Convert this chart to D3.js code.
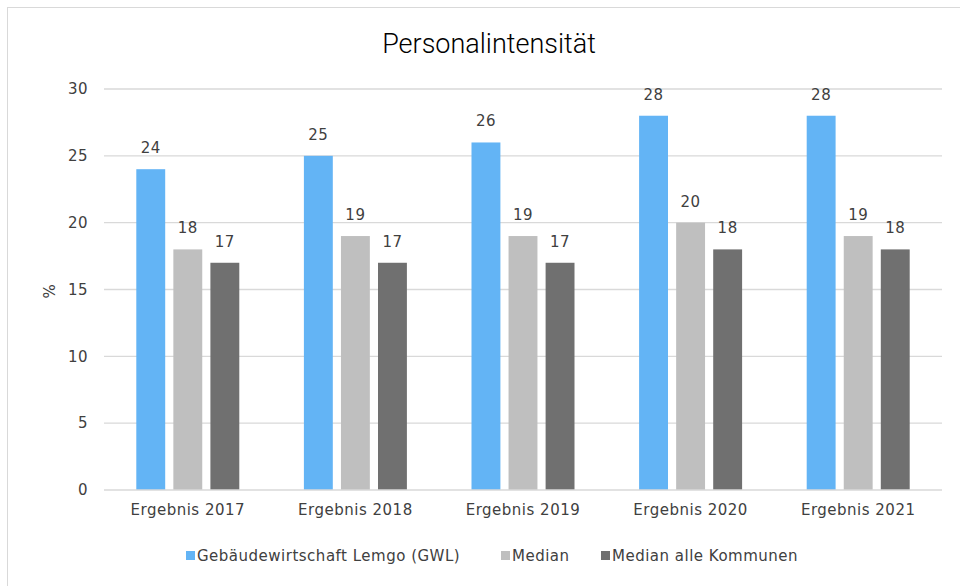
<!DOCTYPE html>
<html>
<head>
<meta charset="utf-8">
<script src="https://cdn.jsdelivr.net/npm/d3@7"></script>
<style>
  body { margin: 0; background: #fff; }
  svg text { font-family: "DejaVu Sans", Verdana, sans-serif; fill: #404040; letter-spacing: 0.5px; }
</style>
</head>
<body>
<div id="chart"></div>
<script>
const categories = ['Ergebnis 2017', 'Ergebnis 2018', 'Ergebnis 2019', 'Ergebnis 2020', 'Ergebnis 2021'];
const seriesNames = ['Gebäudewirtschaft Lemgo (GWL)', 'Median', 'Median alle Kommunen'];
const gwl = [24, 25, 26, 28, 28];
const median = [18, 19, 19, 20, 19];
const medianAll = [17, 17, 17, 18, 18];
const yTicks = [0, 5, 10, 15, 20, 25, 30];
const colors = ['#63b4f5', '#bfbfbf', '#707070'];

const width = 960, height = 586;
const margin = {top: 89, right: 18, bottom: 96, left: 104};
const innerW = width - margin.left - margin.right;
const innerH = height - margin.top - margin.bottom;

const svg = d3.select('#chart').append('svg')
    .attr('width', width)
    .attr('height', height);

// outer frame
svg.append('rect')
    .attr('x', 7.5).attr('y', 7.5)
    .attr('width', 970).attr('height', 600)
    .attr('fill', 'none')
    .attr('stroke', '#d9d9d9');

svg.append('text')
    .attr('x', 489).attr('y', 53)
    .attr('text-anchor', 'middle')
    .style('font-family', 'Roboto, sans-serif')
    .style('font-weight', 300)
    .style('font-size', '27px')
    .style('letter-spacing', '0px')
    .style('fill', '#000')
    .text('Personalintensität');

const g = svg.append('g')
    .attr('transform', `translate(${margin.left},${margin.top})`);

const x0 = d3.scaleBand().domain(categories).range([0, innerW]);
const x1 = d3.scaleBand().domain(seriesNames).range([0, 103]).paddingInner(0.22);
const y = d3.scaleLinear().domain([0, 30]).range([innerH, 0]);

// gridlines
g.append('g')
    .selectAll('line')
    .data(yTicks.filter(t => t > 0))
    .join('line')
    .attr('x1', 0).attr('x2', innerW)
    .attr('y1', d => y(d)).attr('y2', d => y(d))
    .attr('stroke', '#d9d9d9')
    .attr('stroke-width', 1.3);

const yAxis = g.append('g')
    .call(d3.axisLeft(y).tickValues(yTicks).tickSize(0).tickPadding(16));
yAxis.select('.domain').remove();
yAxis.selectAll('text').style('font-size', '15px').attr('fill', '#404040');

const data = [gwl, median, medianAll];
const groups = g.selectAll('.group')
    .data(categories)
    .join('g')
    .attr('class', 'group')
    .attr('transform', d => `translate(${x0(d) + (x0.bandwidth() - 103) / 2},0)`);

groups.each(function (cat, ci) {
    const sel = d3.select(this);
    seriesNames.forEach((s, si) => {
        const v = data[si][ci];
        sel.append('rect')
            .attr('x', x1(s))
            .attr('y', y(v))
            .attr('width', x1.bandwidth())
            .attr('height', innerH - y(v))
            .attr('fill', colors[si]);
        sel.append('text')
            .attr('x', x1(s) + x1.bandwidth() / 2)
            .attr('y', y(v) - 16)
            .attr('text-anchor', 'middle')
            .style('font-size', '15px')
            .text(v);
    });
});

// x axis baseline
g.append('line')
    .attr('x1', 0).attr('x2', innerW)
    .attr('y1', innerH).attr('y2', innerH)
    .attr('stroke', '#d9d9d9')
    .attr('stroke-width', 1.3);

const xAxis = g.append('g')
    .attr('transform', `translate(0,${innerH})`)
    .call(d3.axisBottom(x0).tickSize(0).tickPadding(14));
xAxis.select('.domain').remove();
xAxis.selectAll('text').style('font-size', '15px').attr('fill', '#404040');

svg.append('text')
    .attr('transform', 'translate(55,291) rotate(-90)')
    .attr('text-anchor', 'middle')
    .style('font-size', '15px')
    .text('%');

// legend
const legendX = [186, 501, 601];
const legend = svg.append('g');
seriesNames.forEach((s, i) => {
    legend.append('rect')
        .attr('x', legendX[i]).attr('y', 551)
        .attr('width', 9).attr('height', 9)
        .attr('fill', colors[i]);
    legend.append('text')
        .attr('x', legendX[i] + 11).attr('y', 561)
        .style('font-size', '15px')
        .text(s);
});
</script>
</body>
</html>
